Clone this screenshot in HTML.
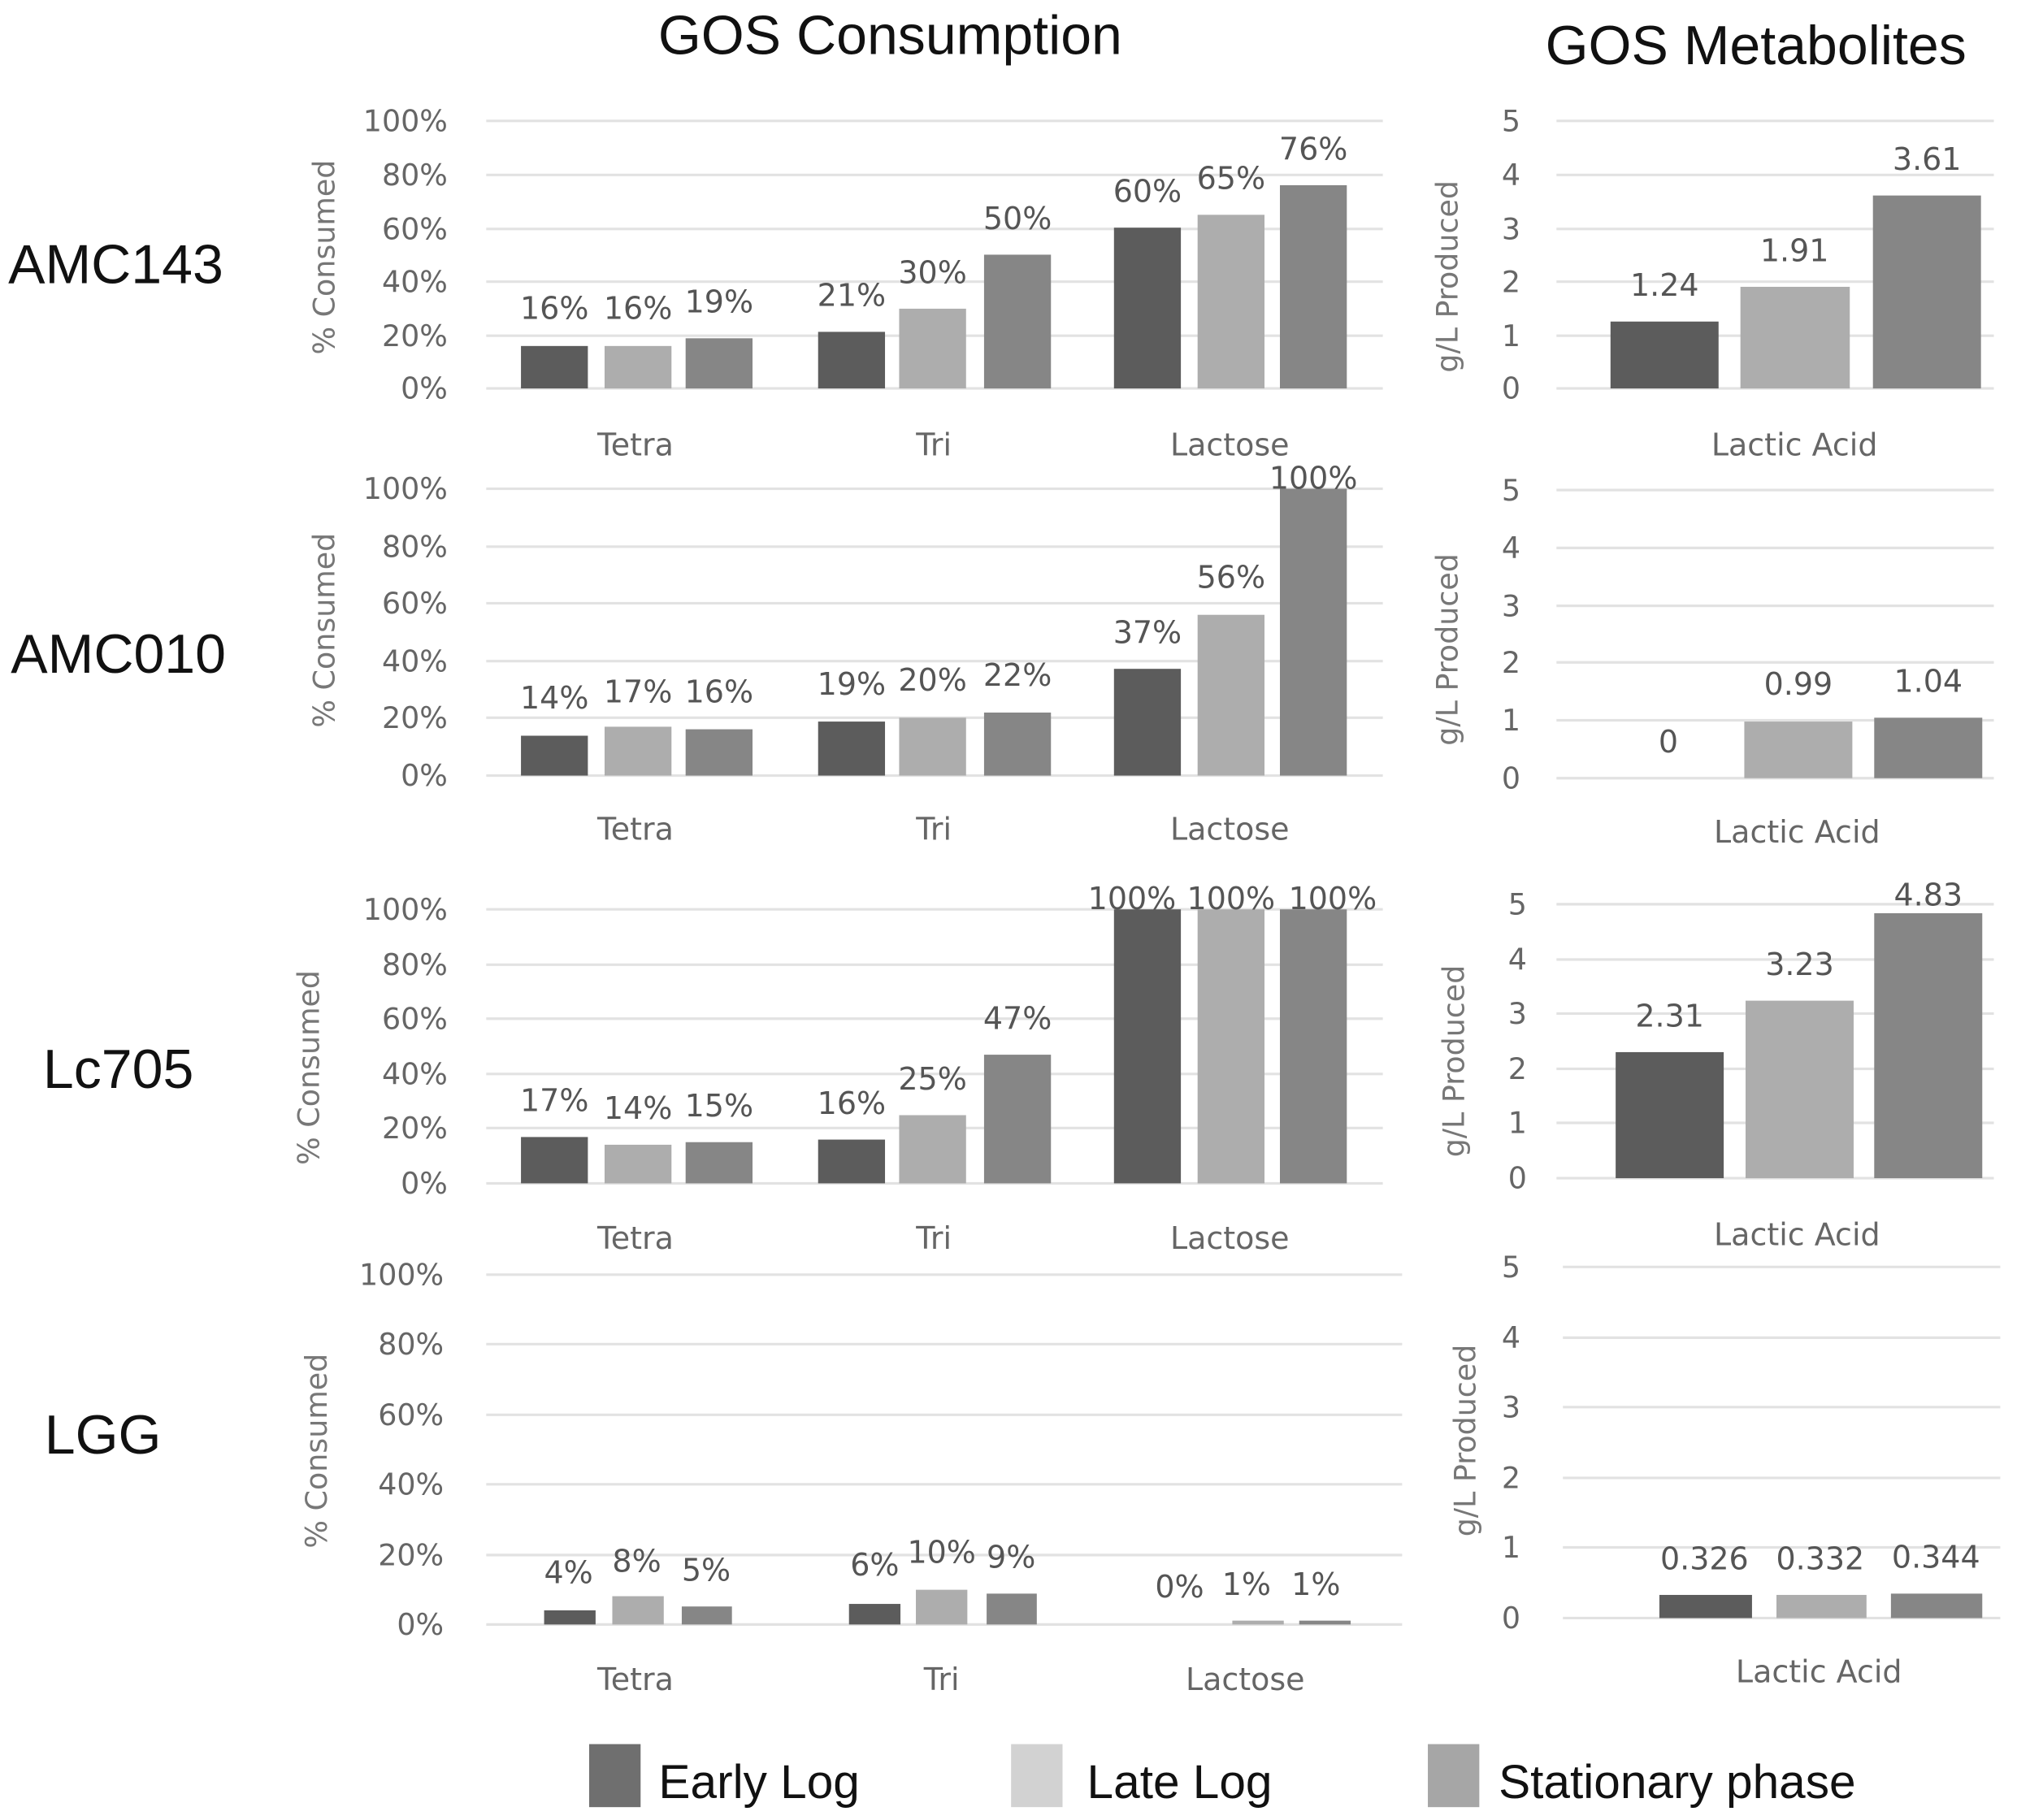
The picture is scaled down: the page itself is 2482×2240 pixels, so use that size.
<!DOCTYPE html>
<html><head><meta charset="utf-8"><style>
html,body{margin:0;padding:0;background:#fff}
svg{display:block}
.t{font-family:"DejaVu Sans","Liberation Sans",sans-serif;fill:#666;font-size:23px}
.y{text-anchor:end}
.v{font-family:"DejaVu Sans","Liberation Sans",sans-serif;fill:#555;font-size:24px;text-anchor:middle}
.c{font-family:"DejaVu Sans","Liberation Sans",sans-serif;fill:#666;font-size:24px;text-anchor:middle}
.h{font-family:"Liberation Sans",sans-serif;fill:#111;font-size:43px;text-anchor:middle}
.r{font-family:"Liberation Sans",sans-serif;fill:#111;font-size:43px;text-anchor:middle}
.a{font-family:"DejaVu Sans","Liberation Sans",sans-serif;fill:#777;font-size:23px;text-anchor:middle}
.g{stroke:#e2e2e2;stroke-width:2}
.d{fill:#5c5c5c}.l{fill:#adadad}.s{fill:#868686}
</style></head><body>
<svg width="2482" height="2240" viewBox="0 0 1568 1415" preserveAspectRatio="none" xmlns="http://www.w3.org/2000/svg">
<text class="h" x="692" y="42">GOS Consumption</text>
<text class="h" x="1365" y="50">GOS Metabolites</text>
<text class="r" x="90" y="220">AMC143</text>
<text class="r" x="92" y="523">AMC010</text>
<text class="r" x="92" y="846">Lc705</text>
<text class="r" x="80" y="1130">LGG</text>

<!-- Panel 1 -->
<g>
<line class="g" x1="378" x2="1075" y1="94" y2="94"/><line class="g" x1="378" x2="1075" y1="136" y2="136"/><line class="g" x1="378" x2="1075" y1="178" y2="178"/><line class="g" x1="378" x2="1075" y1="219" y2="219"/><line class="g" x1="378" x2="1075" y1="261" y2="261"/><line class="g" x1="378" x2="1075" y1="302" y2="302"/>
<text class="t y" x="348" y="102">100%</text><text class="t y" x="348" y="144">80%</text><text class="t y" x="348" y="186">60%</text><text class="t y" x="348" y="227">40%</text><text class="t y" x="348" y="269">20%</text><text class="t y" x="348" y="310">0%</text>
<text class="a" transform="translate(260,200) rotate(-90)">% Consumed</text>
<rect class="d" x="405" y="269" width="52" height="33"/><rect class="l" x="470" y="269" width="52" height="33"/><rect class="s" x="533" y="263" width="52" height="39"/>
<rect class="d" x="636" y="258" width="52" height="44"/><rect class="l" x="699" y="240" width="52" height="62"/><rect class="s" x="765" y="198" width="52" height="104"/>
<rect class="d" x="866" y="177" width="52" height="125"/><rect class="l" x="931" y="167" width="52" height="135"/><rect class="s" x="995" y="144" width="52" height="158"/>
<text class="v" x="431" y="248">16%</text><text class="v" x="496" y="248">16%</text><text class="v" x="559" y="243">19%</text>
<text class="v" x="662" y="238">21%</text><text class="v" x="725" y="220">30%</text><text class="v" x="791" y="178">50%</text>
<text class="v" x="892" y="157">60%</text><text class="v" x="957" y="147">65%</text><text class="v" x="1021" y="124">76%</text>
<text class="c" x="494" y="354">Tetra</text><text class="c" x="726" y="354">Tri</text><text class="c" x="956" y="354">Lactose</text>
<line class="g" x1="1210" x2="1550" y1="94" y2="94"/><line class="g" x1="1210" x2="1550" y1="136" y2="136"/><line class="g" x1="1210" x2="1550" y1="178" y2="178"/><line class="g" x1="1210" x2="1550" y1="219" y2="219"/><line class="g" x1="1210" x2="1550" y1="261" y2="261"/><line class="g" x1="1210" x2="1550" y1="302" y2="302"/>
<text class="t y" x="1182" y="102">5</text><text class="t y" x="1182" y="144">4</text><text class="t y" x="1182" y="186">3</text><text class="t y" x="1182" y="227">2</text><text class="t y" x="1182" y="269">1</text><text class="t y" x="1182" y="310">0</text>
<text class="a" transform="translate(1133,215) rotate(-90)">g/L Produced</text>
<rect class="d" x="1252" y="250" width="84" height="52"/><rect class="l" x="1353" y="223" width="85" height="79"/><rect class="s" x="1456" y="152" width="84" height="150"/>
<text class="v" x="1294" y="230">1.24</text><text class="v" x="1395" y="203">1.91</text><text class="v" x="1498" y="132">3.61</text>
<text class="c" x="1395" y="354">Lactic Acid</text>
</g>

<!-- Panel 2 -->
<g>
<line class="g" x1="378" x2="1075" y1="380" y2="380"/><line class="g" x1="378" x2="1075" y1="425" y2="425"/><line class="g" x1="378" x2="1075" y1="469" y2="469"/><line class="g" x1="378" x2="1075" y1="514" y2="514"/><line class="g" x1="378" x2="1075" y1="558" y2="558"/><line class="g" x1="378" x2="1075" y1="603" y2="603"/>
<text class="t y" x="348" y="388">100%</text><text class="t y" x="348" y="433">80%</text><text class="t y" x="348" y="477">60%</text><text class="t y" x="348" y="522">40%</text><text class="t y" x="348" y="566">20%</text><text class="t y" x="348" y="611">0%</text>
<text class="a" transform="translate(260,490) rotate(-90)">% Consumed</text>
<rect class="d" x="405" y="572" width="52" height="31"/><rect class="l" x="470" y="565" width="52" height="38"/><rect class="s" x="533" y="567" width="52" height="36"/>
<rect class="d" x="636" y="561" width="52" height="42"/><rect class="l" x="699" y="558" width="52" height="45"/><rect class="s" x="765" y="554" width="52" height="49"/>
<rect class="d" x="866" y="520" width="52" height="83"/><rect class="l" x="931" y="478" width="52" height="125"/><rect class="s" x="995" y="380" width="52" height="223"/>
<text class="v" x="431" y="551">14%</text><text class="v" x="496" y="546">17%</text><text class="v" x="559" y="546">16%</text>
<text class="v" x="662" y="540">19%</text><text class="v" x="725" y="537">20%</text><text class="v" x="791" y="533">22%</text>
<text class="v" x="892" y="500">37%</text><text class="v" x="957" y="457">56%</text><text class="v" x="1021" y="380">100%</text>
<text class="c" x="494" y="653">Tetra</text><text class="c" x="726" y="653">Tri</text><text class="c" x="956" y="653">Lactose</text>
<line class="g" x1="1210" x2="1550" y1="381" y2="381"/><line class="g" x1="1210" x2="1550" y1="426" y2="426"/><line class="g" x1="1210" x2="1550" y1="471" y2="471"/><line class="g" x1="1210" x2="1550" y1="515" y2="515"/><line class="g" x1="1210" x2="1550" y1="560" y2="560"/><line class="g" x1="1210" x2="1550" y1="605" y2="605"/>
<text class="t y" x="1182" y="389">5</text><text class="t y" x="1182" y="434">4</text><text class="t y" x="1182" y="479">3</text><text class="t y" x="1182" y="523">2</text><text class="t y" x="1182" y="568">1</text><text class="t y" x="1182" y="613">0</text>
<text class="a" transform="translate(1133,505) rotate(-90)">g/L Produced</text>
<rect class="l" x="1356" y="561" width="84" height="44"/><rect class="s" x="1457" y="558" width="84" height="47"/>
<text class="v" x="1297" y="585">0</text><text class="v" x="1398" y="540">0.99</text><text class="v" x="1499" y="538">1.04</text>
<text class="c" x="1397" y="655">Lactic Acid</text>
</g>

<!-- Panel 3 -->
<g>
<line class="g" x1="378" x2="1075" y1="707" y2="707"/><line class="g" x1="378" x2="1075" y1="750" y2="750"/><line class="g" x1="378" x2="1075" y1="792" y2="792"/><line class="g" x1="378" x2="1075" y1="835" y2="835"/><line class="g" x1="378" x2="1075" y1="877" y2="877"/><line class="g" x1="378" x2="1075" y1="920" y2="920"/>
<text class="t y" x="348" y="715">100%</text><text class="t y" x="348" y="758">80%</text><text class="t y" x="348" y="800">60%</text><text class="t y" x="348" y="843">40%</text><text class="t y" x="348" y="885">20%</text><text class="t y" x="348" y="928">0%</text>
<text class="a" transform="translate(248,830) rotate(-90)">% Consumed</text>
<rect class="d" x="405" y="884" width="52" height="36"/><rect class="l" x="470" y="890" width="52" height="30"/><rect class="s" x="533" y="888" width="52" height="32"/>
<rect class="d" x="636" y="886" width="52" height="34"/><rect class="l" x="699" y="867" width="52" height="53"/><rect class="s" x="765" y="820" width="52" height="100"/>
<rect class="d" x="866" y="707" width="52" height="213"/><rect class="l" x="931" y="707" width="52" height="213"/><rect class="s" x="995" y="707" width="52" height="213"/>
<text class="v" x="431" y="864">17%</text><text class="v" x="496" y="870">14%</text><text class="v" x="559" y="868">15%</text>
<text class="v" x="662" y="866">16%</text><text class="v" x="725" y="847">25%</text><text class="v" x="791" y="800">47%</text>
<text class="v" x="880" y="707">100%</text><text class="v" x="957" y="707">100%</text><text class="v" x="1036" y="707">100%</text>
<text class="c" x="494" y="971">Tetra</text><text class="c" x="726" y="971">Tri</text><text class="c" x="956" y="971">Lactose</text>
<line class="g" x1="1210" x2="1550" y1="703" y2="703"/><line class="g" x1="1210" x2="1550" y1="746" y2="746"/><line class="g" x1="1210" x2="1550" y1="788" y2="788"/><line class="g" x1="1210" x2="1550" y1="831" y2="831"/><line class="g" x1="1210" x2="1550" y1="873" y2="873"/><line class="g" x1="1210" x2="1550" y1="916" y2="916"/>
<text class="t y" x="1187" y="711">5</text><text class="t y" x="1187" y="754">4</text><text class="t y" x="1187" y="796">3</text><text class="t y" x="1187" y="839">2</text><text class="t y" x="1187" y="881">1</text><text class="t y" x="1187" y="924">0</text>
<text class="a" transform="translate(1138,825) rotate(-90)">g/L Produced</text>
<rect class="d" x="1256" y="818" width="84" height="98"/><rect class="l" x="1357" y="778" width="84" height="138"/><rect class="s" x="1457" y="710" width="84" height="206"/>
<text class="v" x="1298" y="798">2.31</text><text class="v" x="1399" y="758">3.23</text><text class="v" x="1499" y="704">4.83</text>
<text class="c" x="1397" y="968">Lactic Acid</text>
</g>

<!-- Panel 4 -->
<g>
<line class="g" x1="378" x2="1090" y1="991" y2="991"/><line class="g" x1="378" x2="1090" y1="1045" y2="1045"/><line class="g" x1="378" x2="1090" y1="1100" y2="1100"/><line class="g" x1="378" x2="1090" y1="1154" y2="1154"/><line class="g" x1="378" x2="1090" y1="1209" y2="1209"/><line class="g" x1="378" x2="1090" y1="1263" y2="1263"/>
<text class="t y" x="345" y="999">100%</text><text class="t y" x="345" y="1053">80%</text><text class="t y" x="345" y="1108">60%</text><text class="t y" x="345" y="1162">40%</text><text class="t y" x="345" y="1217">20%</text><text class="t y" x="345" y="1271">0%</text>
<text class="a" transform="translate(254,1128) rotate(-90)">% Consumed</text>
<rect class="d" x="423" y="1252" width="40" height="11"/><rect class="l" x="476" y="1241" width="40" height="22"/><rect class="s" x="530" y="1249" width="39" height="14"/>
<rect class="d" x="660" y="1247" width="40" height="16"/><rect class="l" x="712" y="1236" width="40" height="27"/><rect class="s" x="767" y="1239" width="39" height="24"/>
<rect class="l" x="958" y="1260" width="40" height="3"/><rect class="s" x="1010" y="1260" width="40" height="3"/>
<text class="v" x="442" y="1231">4%</text><text class="v" x="495" y="1222">8%</text><text class="v" x="549" y="1229">5%</text>
<text class="v" x="680" y="1225">6%</text><text class="v" x="732" y="1215">10%</text><text class="v" x="786" y="1219">9%</text>
<text class="v" x="917" y="1242">0%</text><text class="v" x="969" y="1240">1%</text><text class="v" x="1023" y="1240">1%</text>
<text class="c" x="494" y="1314">Tetra</text><text class="c" x="732" y="1314">Tri</text><text class="c" x="968" y="1314">Lactose</text>
<line class="g" x1="1215" x2="1555" y1="985" y2="985"/><line class="g" x1="1215" x2="1555" y1="1040" y2="1040"/><line class="g" x1="1215" x2="1555" y1="1094" y2="1094"/><line class="g" x1="1215" x2="1555" y1="1149" y2="1149"/><line class="g" x1="1215" x2="1555" y1="1203" y2="1203"/><line class="g" x1="1215" x2="1555" y1="1258" y2="1258"/>
<text class="t y" x="1182" y="993">5</text><text class="t y" x="1182" y="1048">4</text><text class="t y" x="1182" y="1102">3</text><text class="t y" x="1182" y="1157">2</text><text class="t y" x="1182" y="1211">1</text><text class="t y" x="1182" y="1266">0</text>
<text class="a" transform="translate(1147,1120) rotate(-90)">g/L Produced</text>
<rect class="d" x="1290" y="1240" width="72" height="18"/><rect class="l" x="1381" y="1240" width="70" height="18"/><rect class="s" x="1470" y="1239" width="71" height="19"/>
<text class="v" x="1325" y="1220">0.326</text><text class="v" x="1415" y="1220">0.332</text><text class="v" x="1505" y="1219">0.344</text>
<text class="c" x="1414" y="1308">Lactic Acid</text>
</g>

<!-- Legend -->
<rect x="458" y="1356" width="40" height="49" fill="#6f6f6f"/>
<text x="512" y="1398" font-family="Liberation Sans,sans-serif" font-size="37" fill="#111">Early Log</text>
<rect x="786" y="1356" width="40" height="49" fill="#d2d2d2"/>
<text x="845" y="1398" font-family="Liberation Sans,sans-serif" font-size="37" fill="#111">Late Log</text>
<rect x="1110" y="1356" width="40" height="49" fill="#a6a6a6"/>
<text x="1165" y="1398" font-family="Liberation Sans,sans-serif" font-size="37" fill="#111">Stationary phase</text>
</svg>
</body></html>
